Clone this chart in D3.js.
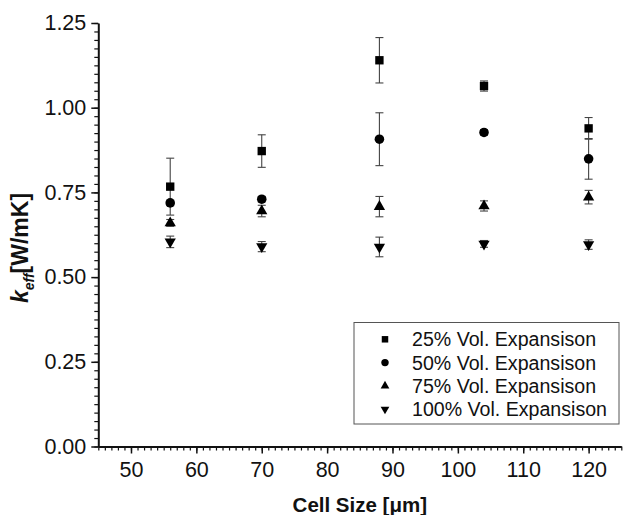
<!DOCTYPE html>
<html>
<head>
<meta charset="utf-8">
<script src="https://cdn.jsdelivr.net/npm/d3@7"></script>
<style>
  body { margin: 0; background: #fff; }
  text { font-family: "Liberation Sans", Arial, sans-serif; fill: #111; }
</style>
</head>
<body>
<div id="chart"></div>
<script>
// Data
const cellSizes = [56, 70, 88, 104, 120];
const vol25 = [0.767, 0.872, 1.140, 1.064, 0.939];
const err25 = [0.084, 0.048, 0.067, 0.015, 0.032];
const vol50 = [0.719, 0.730, 0.907, 0.927, 0.849];
const err50 = [0.008, 0.008, 0.078, 0.008, 0.060];
const vol75 = [0.660, 0.695, 0.708, 0.710, 0.736];
const err75 = [0.010, 0.017, 0.030, 0.015, 0.020];
const vol100 = [0.604, 0.590, 0.589, 0.598, 0.596];
const err100 = [0.017, 0.015, 0.029, 0.010, 0.014];
const seriesNames = ["25% Vol. Expansison", "50% Vol. Expansison", "75% Vol. Expansison", "100% Vol. Expansison"];
const xTicks = [50, 60, 70, 80, 90, 100, 110, 120];
const yTicks = [0, 0.25, 0.5, 0.75, 1.0, 1.25];

const width = 623;
const height = 515;
const margin = { top: 23, right: 1.7, bottom: 68.5, left: 98.3 };

const series = [
    { name: seriesNames[0], values: vol25, errors: err25, symbol: d3.symbolSquare, size: 70, rot: 0 },
    { name: seriesNames[1], values: vol50, errors: err50, symbol: d3.symbolCircle, size: 72, rot: 0 },
    { name: seriesNames[2], values: vol75, errors: err75, symbol: d3.symbolTriangle, size: 55, rot: 0 },
    { name: seriesNames[3], values: vol100, errors: err100, symbol: d3.symbolTriangle, size: 55, rot: 180 }
];

const svg = d3.select("#chart")
    .append("svg")
    .attr("width", width)
    .attr("height", height);

const x = d3.scaleLinear()
    .domain([45, 125])
    .range([margin.left, width - margin.right]);

const y = d3.scaleLinear()
    .domain([0, 1.25])
    .range([height - margin.bottom, margin.top]);

// Minor ticks
svg.append("g")
    .attr("transform", `translate(0,${height - margin.bottom})`)
    .call(d3.axisBottom(x).tickValues(d3.range(45, 125.5, 1)).tickSize(4).tickFormat(""))
    .call(g => g.select(".domain").remove())
    .selectAll("line").attr("stroke", "#111").attr("stroke-width", 1.2);

svg.append("g")
    .attr("transform", `translate(${margin.left},0)`)
    .call(d3.axisLeft(y).tickValues(d3.range(0, 51).map(i => i * 0.025)).tickSize(4).tickFormat(""))
    .call(g => g.select(".domain").remove())
    .selectAll("line").attr("stroke", "#111").attr("stroke-width", 1.2);

// Major axes
const xAxis = svg.append("g")
    .attr("transform", `translate(0,${height - margin.bottom})`)
    .call(d3.axisBottom(x).tickValues(xTicks).tickSize(7).tickSizeOuter(0).tickPadding(8));

const yAxis = svg.append("g")
    .attr("transform", `translate(${margin.left},0)`)
    .call(d3.axisLeft(y).tickValues(yTicks).tickSize(7).tickSizeOuter(0).tickPadding(5).tickFormat(d3.format(".2f")));

[xAxis, yAxis].forEach(ax => {
    ax.select(".domain").attr("stroke", "#111").attr("stroke-width", 2);
    ax.selectAll(".tick line").attr("stroke", "#111").attr("stroke-width", 1.5);
    ax.selectAll(".tick text")
        .style("font-family", "'Liberation Sans', Arial, sans-serif")
        .style("font-size", "21.5px")
        .attr("fill", "#111");
});

// Error bars
const capW = 4;
series.forEach(s => {
    const g = svg.append("g").attr("stroke", "#444").attr("stroke-width", 1.1);
    cellSizes.forEach((c, i) => {
        const v = s.values[i], e = s.errors[i];
        const cx = x(c);
        g.append("line").attr("x1", cx).attr("x2", cx).attr("y1", y(v - e)).attr("y2", y(v + e));
        g.append("line").attr("x1", cx - capW).attr("x2", cx + capW).attr("y1", y(v + e)).attr("y2", y(v + e));
        g.append("line").attr("x1", cx - capW).attr("x2", cx + capW).attr("y1", y(v - e)).attr("y2", y(v - e));
    });
});

// Markers
series.forEach(s => {
    svg.append("g")
        .selectAll("path")
        .data(cellSizes.map((c, i) => ({ c, v: s.values[i] })))
        .enter()
        .append("path")
        .attr("d", d3.symbol().type(s.symbol).size(s.size))
        .attr("transform", d => `translate(${x(d.c)},${y(d.v)}) rotate(${s.rot})`)
        .attr("fill", "#000");
});

// Axis titles
svg.append("text")
    .attr("x", (margin.left + width - margin.right) / 2)
    .attr("y", 512)
    .attr("text-anchor", "middle")
    .style("font-size", "20.5px")
    .style("font-weight", "bold")
    .text("Cell Size [\u03bcm]");

const yTitle = svg.append("text")
    .attr("transform", "translate(28,248) rotate(-90)")
    .attr("text-anchor", "middle")
    .style("font-size", "23px")
    .style("font-weight", "bold");
yTitle.append("tspan").style("font-style", "italic").text("k");
yTitle.append("tspan").style("font-style", "italic").style("font-size", "14px").attr("dy", 6).text("eff");
yTitle.append("tspan").attr("dy", -6).text("[W/mK]");

// Legend
const legend = svg.append("g");
legend.append("rect")
    .attr("x", 354).attr("y", 322.5)
    .attr("width", 265).attr("height", 101.5)
    .attr("fill", "#fff")
    .attr("stroke", "#555")
    .attr("stroke-width", 1);

series.forEach((s, i) => {
    const ly = 339.3 + i * 23.3;
    legend.append("path")
        .attr("d", d3.symbol().type(s.symbol).size(s.size * 0.6))
        .attr("transform", `translate(385,${ly}) rotate(${s.rot})`)
        .attr("fill", "#000");
    legend.append("text")
        .attr("x", 412)
        .attr("y", ly)
        .attr("dy", "0.36em")
        .style("font-size", "19.6px")
        .text(s.name);
});
</script>
</body>
</html>
